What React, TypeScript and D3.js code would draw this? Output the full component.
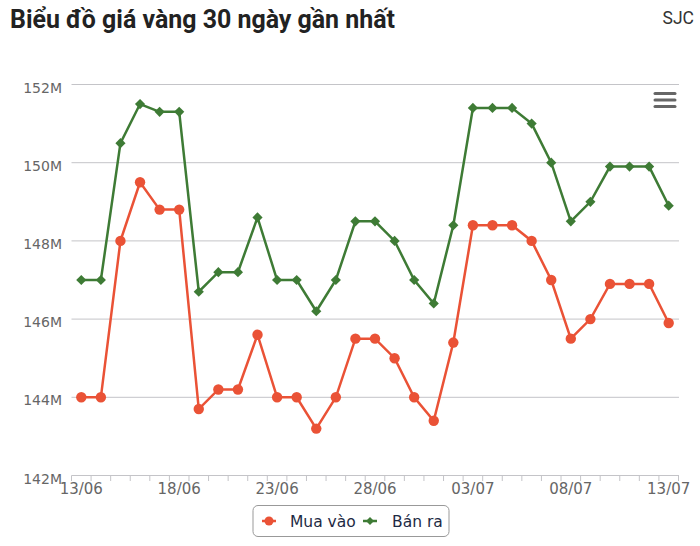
import * as d3 from "d3";

const days = [
  "13/06", "14/06", "15/06", "16/06", "17/06", "18/06", "19/06", "20/06",
  "21/06", "22/06", "23/06", "24/06", "25/06", "26/06", "27/06", "28/06",
  "29/06", "30/06", "01/07", "02/07", "03/07", "04/07", "05/07", "06/07",
  "07/07", "08/07", "09/07", "10/07", "11/07", "12/07", "13/07",
];

// millions VND / lượng
const muaVao = [
  144, 144, 148, 149.5, 148.8, 148.8, 143.7, 144.2, 144.2, 145.6, 144, 144,
  143.2, 144, 145.5, 145.5, 145, 144, 143.4, 145.4, 148.4, 148.4, 148.4, 148,
  147, 145.5, 146, 146.9, 146.9, 146.9, 145.9,
];
const banRa = [
  147, 147, 150.5, 151.5, 151.3, 151.3, 146.7, 147.2, 147.2, 148.6, 147, 147,
  146.2, 147, 148.5, 148.5, 148, 147, 146.4, 148.4, 151.4, 151.4, 151.4, 151,
  150, 148.5, 149, 149.9, 149.9, 149.9, 148.9,
];
const yTicks = [142, 144, 146, 148, 150, 152];

const W = 700;
const H = 546;
const RED = "#ea5236";
const GREEN = "#3e7b35";
const FONT = "'DejaVu Sans', sans-serif";

export default function App() {
  const x = d3.scaleBand<string>().domain(days).range([71.5, 678.5]);
  const bw = x.bandwidth();
  const cx = (d: string) => (x(d) as number) + bw / 2;
  const y = d3.scaleLinear().domain([142, 152]).range([475.5, 84.5]);

  const line = d3
    .line<number>()
    .x((_, i) => cx(days[i]))
    .y((v) => y(v));

  const diamond = d3.symbol(d3.symbolDiamond2, 66)();

  return (
    <svg
      width={W}
      height={H}
      style={{ position: "absolute", left: 0, top: 0, background: "#fff" }}
    >
      <text
        x={10}
        y={28}
        fontFamily="Roboto, sans-serif"
        fontWeight="bold"
        fontSize={25}
        fill="#222"
        textLength={385}
        lengthAdjust="spacingAndGlyphs"
      >
        Biểu đồ giá vàng 30 ngày gần nhất
      </text>
      <text x={694} y={24} textAnchor="end" fontFamily="Roboto, sans-serif" fontSize={17.5} fill="#333">
        SJC
      </text>

      {/* grid */}
      {yTicks.map((t) => (
        <g key={t}>
          {t !== 142 && (
            <line x1={71.5} x2={679} y1={y(t)} y2={y(t)} stroke="#c4c4c8" strokeWidth={1} />
          )}
          <text
            x={62}
            y={y(t) + 8}
            textAnchor="end"
            fontFamily={FONT}
            fontSize={14}
            fill="#666"
          >
            {t}M
          </text>
        </g>
      ))}

      {/* x axis */}
      <line x1={71.5} x2={679} y1={475.5} y2={475.5} stroke="#c4c4c8" />
      {[...days.map((d) => x(d) as number), 678.5].map((p, i) => (
        <line key={i} x1={p} x2={p} y1={475.5} y2={481} stroke="#c4c4c8" />
      ))}
      {days
        .filter((_, i) => i % 5 === 0)
        .map((d) => (
          <text
            key={d}
            x={cx(d)}
            y={494}
            textAnchor="middle"
            fontFamily={FONT}
            fontSize={15}
            fill="#666"
          >
            {d}
          </text>
        ))}

      {/* menu */}
      {[93.5, 100, 106.5].map((yy) => (
        <line key={yy} x1={655} x2={675} y1={yy} y2={yy} stroke="#666" strokeWidth={3} strokeLinecap="round" />
      ))}

      {/* series */}
      <path d={line(banRa) ?? ""} fill="none" stroke={GREEN} strokeWidth={2.5} />
      {banRa.map((v, i) => (
        <path key={i} d={diamond ?? ""} transform={`translate(${cx(days[i])},${y(v)})`} fill={GREEN} />
      ))}
      <path d={line(muaVao) ?? ""} fill="none" stroke={RED} strokeWidth={2.5} />
      {muaVao.map((v, i) => (
        <circle key={i} cx={cx(days[i])} cy={y(v)} r={5.2} fill={RED} />
      ))}

      {/* legend */}
      <rect x={253} y={505.5} width={196} height={31} rx={5} fill="#fff" stroke="#999" />
      <line x1={262} x2={276} y1={521} y2={521} stroke={RED} strokeWidth={2.5} />
      <circle cx={269} cy={521} r={4.5} fill={RED} />
      <text x={290} y={526.5} fontFamily={FONT} fontSize={15.5} fill="#1e2a44">
        Mua vào
      </text>
      <line x1={363} x2={377} y1={521} y2={521} stroke={GREEN} strokeWidth={2.5} />
      <path d={d3.symbol(d3.symbolDiamond2, 40)() ?? ""} transform="translate(370,521)" fill={GREEN} />
      <text x={392} y={526.5} fontFamily={FONT} fontSize={15.5} fill="#1e2a44">
        Bán ra
      </text>
    </svg>
  );
}
